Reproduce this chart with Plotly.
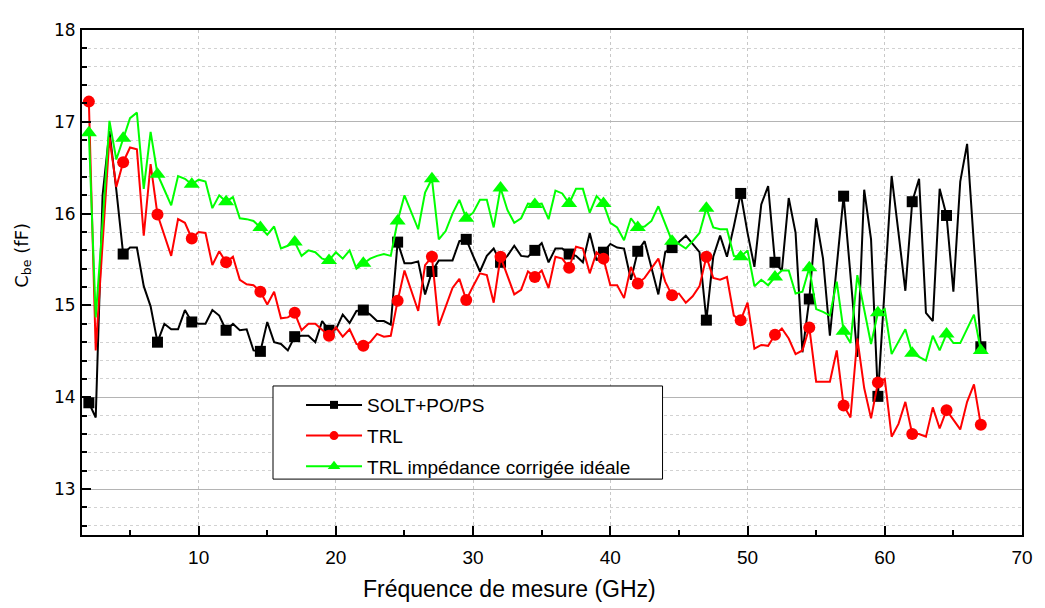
import plotly.graph_objects as go

# Fréquences de mesure (GHz), pas de 0.5 GHz
freq_ghz = [
    2.0, 2.5, 3.0, 3.5, 4.0, 4.5, 5.0, 5.5, 6.0, 6.5,
    7.0, 7.5, 8.0, 8.5, 9.0, 9.5, 10.0, 10.5, 11.0, 11.5,
    12.0, 12.5, 13.0, 13.5, 14.0, 14.5, 15.0, 15.5, 16.0, 16.5,
    17.0, 17.5, 18.0, 18.5, 19.0, 19.5, 20.0, 20.5, 21.0, 21.5,
    22.0, 22.5, 23.0, 23.5, 24.0, 24.5, 25.0, 25.5, 26.0, 26.5,
    27.0, 27.5, 28.0, 28.5, 29.0, 29.5, 30.0, 30.5, 31.0, 31.5,
    32.0, 32.5, 33.0, 33.5, 34.0, 34.5, 35.0, 35.5, 36.0, 36.5,
    37.0, 37.5, 38.0, 38.5, 39.0, 39.5, 40.0, 40.5, 41.0, 41.5,
    42.0, 42.5, 43.0, 43.5, 44.0, 44.5, 45.0, 45.5, 46.0, 46.5,
    47.0, 47.5, 48.0, 48.5, 49.0, 49.5, 50.0, 50.5, 51.0, 51.5,
    52.0, 52.5, 53.0, 53.5, 54.0, 54.5, 55.0, 55.5, 56.0, 56.5,
    57.0, 57.5, 58.0, 58.5, 59.0, 59.5, 60.0, 60.5, 61.0, 61.5,
    62.0, 62.5, 63.0, 63.5, 64.0, 64.5, 65.0, 65.5, 66.0, 66.5,
    67.0,
]

# Cbe (fF) - SOLT+PO/PS
cbe_solt = [
    13.94, 13.78, 16.20, 16.90, 16.26, 15.56, 15.63, 15.63, 15.21, 14.99,
    14.60, 14.80, 14.74, 14.74, 14.95, 14.82, 14.80, 14.80, 14.95, 14.89,
    14.73, 14.80, 14.73, 14.74, 14.51, 14.50, 14.82, 14.60, 14.58, 14.51,
    14.66, 14.67, 14.67, 14.60, 14.83, 14.73, 14.74, 14.90, 14.81, 14.94,
    14.95, 14.90, 14.83, 14.83, 14.79, 15.69, 15.46, 15.46, 15.48, 15.12,
    15.37, 15.49, 15.49, 15.49, 15.70, 15.72, 15.54, 15.37, 15.54, 15.62,
    15.47, 15.54, 15.65, 15.54, 15.53, 15.60, 15.68, 15.47, 15.62, 15.62,
    15.56, 15.54, 15.47, 15.79, 15.49, 15.58, 15.67, 15.63, 15.62, 15.28,
    15.59, 15.70, 15.40, 15.12, 15.58, 15.63, 15.69, 15.76, 15.67, 15.58,
    14.84, 15.53, 15.76, 15.53, 15.86, 16.22, 15.79, 15.42, 16.10, 16.30,
    15.47, 15.38, 16.17, 15.79, 14.49, 15.07, 15.95, 15.51, 14.67, 15.44,
    16.19, 15.33, 14.44, 16.26, 15.72, 14.01, 15.22, 16.41, 15.79, 15.16,
    16.13, 16.38, 14.92, 14.83, 16.27, 15.98, 15.15, 16.35, 16.76, 15.69,
    14.55,
]

# Cbe (fF) - TRL
cbe_trl = [
    17.22, 14.51, 15.67, 16.83, 16.29, 16.56, 16.72, 16.70, 15.76, 16.54,
    15.99, 15.77, 15.54, 15.94, 15.90, 15.73, 15.80, 15.79, 15.44, 15.59,
    15.47, 15.53, 15.28, 15.23, 15.22, 15.15, 15.01, 15.15, 14.86, 14.87,
    14.92, 14.73, 14.80, 14.80, 14.74, 14.67, 14.76, 14.66, 14.74, 14.58,
    14.56, 14.60, 14.69, 14.66, 14.67, 15.05, 15.38, 15.15, 14.94, 15.44,
    15.53, 14.78, 14.98, 15.19, 15.29, 15.06, 15.21, 15.35, 15.33, 15.03,
    15.53, 15.33, 15.12, 15.17, 15.37, 15.31, 15.38, 15.19, 15.53, 15.51,
    15.41, 15.64, 15.62, 15.35, 15.58, 15.51, 15.22, 15.22, 15.08, 15.42,
    15.24, 15.30, 15.40, 15.51, 15.26, 15.11, 15.13, 15.03, 15.10, 15.21,
    15.53, 15.30, 15.28, 15.31, 14.89, 14.84, 15.03, 14.53, 14.57, 14.56,
    14.68, 14.75, 14.64, 14.47, 14.51, 14.76, 14.17, 14.17, 14.17, 14.51,
    13.91, 13.78, 14.64, 14.10, 13.77, 14.16, 14.20, 13.57, 13.71, 13.95,
    13.60, 13.60, 13.57, 13.89, 13.66, 13.86, 13.75, 13.65, 13.95, 14.14,
    13.70,
]

# Cbe (fF) - TRL impédance corrigée idéale
cbe_trl_ideal = [
    16.88, 14.87, 15.90, 17.01, 16.59, 16.82, 17.04, 17.10, 16.27, 16.89,
    16.43, 16.26, 16.09, 16.41, 16.38, 16.32, 16.37, 16.35, 16.06, 16.20,
    16.13, 16.18, 15.95, 15.94, 15.92, 15.85, 15.77, 15.86, 15.62, 15.65,
    15.69, 15.54, 15.60, 15.58, 15.51, 15.49, 15.58, 15.51, 15.60, 15.40,
    15.46, 15.51, 15.54, 15.56, 15.54, 15.92, 16.20, 16.02, 15.83, 16.23,
    16.38, 15.72, 15.81, 16.00, 16.15, 15.95, 16.01, 16.15, 16.15, 15.85,
    16.28, 16.04, 15.90, 15.95, 16.11, 16.10, 16.11, 15.94, 16.25, 16.22,
    16.11, 16.27, 16.27, 16.01, 16.19, 16.11, 15.90, 15.85, 15.71, 15.95,
    15.85, 15.86, 15.92, 16.08, 15.88, 15.70, 15.67, 15.62, 15.70, 15.79,
    16.06, 15.85, 15.83, 15.83, 15.54, 15.53, 15.60, 15.21, 15.28, 15.22,
    15.31, 15.38, 15.38, 15.13, 15.15, 15.41, 14.96, 14.93, 14.89, 15.26,
    14.72, 14.59, 15.33, 14.94, 14.58, 14.92, 14.96, 14.47, 14.60, 14.74,
    14.48, 14.44, 14.40, 14.67, 14.51, 14.69, 14.59, 14.59, 14.74, 14.90,
    14.51,
]

# nom, valeurs, couleur, symbole, taille dans le graphe, taille dans la légende
series = [
    ("SOLT+PO/PS", cbe_solt, "#000000", "square", 11, 8),
    ("TRL", cbe_trl, "#ff0000", "circle", 12, 9),
    ("TRL impédance corrigée idéale", cbe_trl_ideal, "#00ff00", "triangle-up", 14, 11),
]

fig = go.Figure()

for nom, vals, couleur, symbole, taille, taille_leg in series:
    # un marqueur tous les 5 points, comme dans Origin
    tailles = [taille if i % 5 == 0 else 0 for i in range(len(vals))]
    fig.add_trace(go.Scatter(
        x=freq_ghz, y=vals, mode="lines+markers",
        line=dict(color=couleur, width=2),
        marker=dict(symbol=symbole, size=tailles, color=couleur, opacity=1,
                    line=dict(width=0)),
        showlegend=False, hoverinfo="x+y", name=nom,
    ))

# entrées de légende (un groupe par entrée pour espacer les lignes)
for nom, vals, couleur, symbole, taille, taille_leg in series:
    fig.add_trace(go.Scatter(
        x=[None], y=[None], mode="lines+markers", name=nom, legendgroup=nom,
        line=dict(color=couleur, width=2),
        marker=dict(symbol=symbole, size=taille_leg, color=couleur, opacity=1),
    ))

# cadre de la légende
fig.add_shape(type="rect", xref="paper", yref="paper",
              x0=0.2032, x1=0.6176, y0=0.1107, y1=0.2951,
              line=dict(color="black", width=1), fillcolor="white", layer="above")

# la page ajoute 8 px de marge autour du graphique : on en tient compte
fig.update_layout(
    width=1037, height=600,
    margin=dict(l=74, r=14, t=12, b=73),
    paper_bgcolor="white", plot_bgcolor="white",
    showlegend=True,
    legend=dict(x=0.233, y=0.295, xanchor="left", yanchor="top",
                bgcolor="rgba(0,0,0,0)", borderwidth=0,
                font=dict(family="Liberation Sans, Arial", size=19, color="black"),
                itemwidth=56, tracegroupgap=3, traceorder="grouped"),
    xaxis=dict(
        range=[1.5, 70], dtick=10, tick0=0,
        showline=True, linecolor="black", linewidth=2, mirror=True,
        ticks="inside", ticklen=9, tickwidth=1.5, tickcolor="black",
        showgrid=True, gridcolor="#c8c8c8", griddash="dot", gridwidth=1,
        zeroline=False,
        minor=dict(dtick=5, ticks="inside", ticklen=5, tickwidth=1.5,
                   tickcolor="black", showgrid=False),
        tickfont=dict(family="Liberation Sans, Arial", size=19, color="black"),
        ticklabelstandoff=4,
    ),
    yaxis=dict(
        range=[12.5, 18], dtick=1, tick0=0,
        showline=True, linecolor="black", linewidth=2, mirror=True,
        ticks="inside", ticklen=9, tickwidth=1.5, tickcolor="black",
        showgrid=True, gridcolor="#b4b4b4", gridwidth=1,
        zeroline=False,
        minor=dict(dtick=0.2, ticks="inside", ticklen=5, tickwidth=1.5,
                   tickcolor="black", showgrid=True, gridcolor="#d2d2d2",
                   griddash="dot", gridwidth=1),
        tickfont=dict(family="DejaVu Sans, Verdana", size=17, color="black"),
        ticklabelstandoff=1,
    ),
    annotations=[
        dict(text="Fréquence de mesure (GHz)", xref="paper", yref="paper",
             x=0.4552, y=-0.1068, xanchor="center", yanchor="middle", showarrow=False,
             font=dict(family="Liberation Sans, Arial", size=23, color="black")),
        dict(text="C<sub>be</sub> (fF)", xref="paper", yref="paper",
             x=-0.0636, y=0.5534, xanchor="center", yanchor="middle", showarrow=False,
             textangle=-90,
             font=dict(family="DejaVu Sans, Verdana", size=18, color="black")),
    ],
)

fig.write_html("out.html")
